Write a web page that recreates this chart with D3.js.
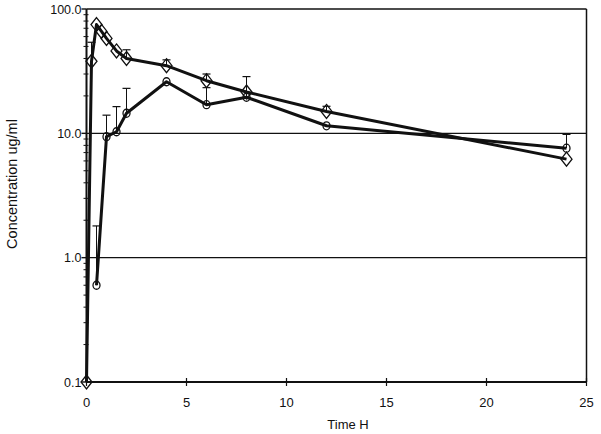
<!DOCTYPE html>
<html>
<head>
<script src="https://d3js.org/d3.v7.min.js"></script>
<style>
  body { margin: 0; background: #fff; }
  text { font-family: "Liberation Sans", Arial, sans-serif; fill: #111; }
</style>
</head>
<body>
<div id="vis"></div>
<script>
  // data
  var diamondTime = [0, 0.25, 0.5, 0.75, 1, 1.5, 2, 4, 6, 8, 12, 24]
  var diamondConc = [0.1, 38, 75, 66, 58, 46, 40, 35, 26.5, 21.5, 15, 6.2]
  var diamondErr  = [null, 54, null, null, null, null, 47, 39, 30, null, 16.5, null]

  var circleTime = [0.5, 1, 1.5, 2, 4, 6, 8, 12, 24]
  var circleConc = [0.6, 9.4, 10.3, 14.5, 26, 17, 19.5, 11.5, 7.6]
  var circleErr  = [1.8, 14, 16.4, 23, null, 23.3, 28.6, null, 9.8]

  var xTicks = [0, 5, 10, 15, 20, 25]
  var yTicks = [0.1, 1, 10, 100]
  var yTickLabels = ["0.1", "1.0", "10.0", "100.0"]

  var width = 601, height = 434
  var pLeft = 86.5, pRight = 586.5, pTop = 9, pBottom = 382

  var svg = d3.select("#vis").append("svg")
    .attr("width", width)
    .attr("height", height)

  var x = d3.scaleLinear().domain([0, 25]).range([pLeft, pRight])
  var y = d3.scaleLog().domain([0.1, 100]).range([pBottom, pTop])

  // grid lines at 1 and 10
  svg.selectAll("line.grid")
    .data([1, 10])
    .enter().append("line")
    .attr("x1", pLeft).attr("x2", pRight)
    .attr("y1", function (d) { return y(d) }).attr("y2", function (d) { return y(d) })
    .attr("stroke", "#111").attr("stroke-width", 1.4)

  // frame top and right
  svg.append("line").attr("x1", pLeft).attr("x2", pRight).attr("y1", pTop).attr("y2", pTop)
    .attr("stroke", "#111").attr("stroke-width", 1.5)
  svg.append("line").attr("x1", pRight).attr("x2", pRight).attr("y1", pTop).attr("y2", pBottom)
    .attr("stroke", "#111").attr("stroke-width", 1.5)

  // x axis
  svg.append("line").attr("x1", pLeft).attr("x2", pRight).attr("y1", pBottom).attr("y2", pBottom)
    .attr("stroke", "#111").attr("stroke-width", 1.8)
  svg.selectAll("line.xtick")
    .data(xTicks)
    .enter().append("line")
    .attr("x1", function (d) { return x(d) }).attr("x2", function (d) { return x(d) })
    .attr("y1", pBottom - 4).attr("y2", pBottom + 4)
    .attr("stroke", "#111").attr("stroke-width", 1.2)
  svg.selectAll("text.xlab")
    .data(xTicks)
    .enter().append("text")
    .attr("x", function (d) { return x(d) })
    .attr("y", pBottom + 25)
    .attr("text-anchor", "middle")
    .attr("font-size", 13)
    .text(function (d) { return d })

  // y axis
  svg.append("line").attr("x1", pLeft).attr("x2", pLeft).attr("y1", pTop).attr("y2", pBottom)
    .attr("stroke", "#111").attr("stroke-width", 2)
  var minor = []
  for (var e = -1; e < 2; e++) {
    for (var m = 2; m < 10; m++) minor.push(m * Math.pow(10, e))
  }
  svg.selectAll("line.ymin")
    .data(minor)
    .enter().append("line")
    .attr("x1", pLeft - 3).attr("x2", pLeft + 2)
    .attr("y1", function (d) { return y(d) }).attr("y2", function (d) { return y(d) })
    .attr("stroke", "#111").attr("stroke-width", 1)
  svg.selectAll("line.ymaj")
    .data(yTicks)
    .enter().append("line")
    .attr("x1", pLeft - 5).attr("x2", pLeft)
    .attr("y1", function (d) { return y(d) }).attr("y2", function (d) { return y(d) })
    .attr("stroke", "#111").attr("stroke-width", 1.4)
  svg.selectAll("text.ylab")
    .data(yTicks)
    .enter().append("text")
    .attr("x", pLeft - 5)
    .attr("y", function (d) { return y(d) + 4.5 })
    .attr("text-anchor", "end")
    .attr("font-size", 12.5)
    .text(function (d, i) { return yTickLabels[i] })

  // axis titles
  svg.append("text")
    .attr("x", 348).attr("y", 429)
    .attr("text-anchor", "middle").attr("font-size", 13)
    .text("Time H")
  svg.append("text")
    .attr("transform", "translate(17,184) rotate(-90)")
    .attr("text-anchor", "middle").attr("font-size", 14.5)
    .text("Concentration ug/ml")

  function drawSeries(times, conc, err, shape) {
    var pts = times.map(function (t, i) { return { t: t, c: conc[i], e: err[i] } })
    var g = svg.append("g")
    // error bars (upper only)
    var eb = pts.filter(function (d) { return d.e != null })
    g.selectAll("line.eb").data(eb).enter().append("line")
      .attr("x1", function (d) { return x(d.t) }).attr("x2", function (d) { return x(d.t) })
      .attr("y1", function (d) { return y(d.c) }).attr("y2", function (d) { return y(d.e) })
      .attr("stroke", "#111").attr("stroke-width", 1)
    g.selectAll("line.cap").data(eb).enter().append("line")
      .attr("x1", function (d) { return x(d.t) - 4 }).attr("x2", function (d) { return x(d.t) + 4 })
      .attr("y1", function (d) { return y(d.e) }).attr("y2", function (d) { return y(d.e) })
      .attr("stroke", "#111").attr("stroke-width", 1.2)
    // line
    var line = d3.line().x(function (d) { return x(d.t) }).y(function (d) { return y(d.c) })
    g.append("path").datum(pts).attr("d", line)
      .attr("fill", "none").attr("stroke", "#111").attr("stroke-width", 3)
      .attr("stroke-linejoin", "round")
    // markers
    if (shape == "diamond") {
      g.selectAll("path.mk").data(pts).enter().append("path")
        .attr("d", function (d) {
          var cx = x(d.t), cy = y(d.c)
          return "M" + cx + "," + (cy - 7) + "L" + (cx + 5.5) + "," + cy + "L" + cx + "," + (cy + 7) + "L" + (cx - 5.5) + "," + cy + "Z"
        })
        .attr("fill", "none").attr("stroke", "#111").attr("stroke-width", 1.3)
    } else {
      g.selectAll("ellipse.mk").data(pts).enter().append("ellipse")
        .attr("cx", function (d) { return x(d.t) }).attr("cy", function (d) { return y(d.c) })
        .attr("rx", 3.5).attr("ry", 4)
        .attr("fill", "none").attr("stroke", "#111").attr("stroke-width", 1.3)
    }
  }

  drawSeries(circleTime, circleConc, circleErr, "circle")
  drawSeries(diamondTime, diamondConc, diamondErr, "diamond")
</script>
</body>
</html>
